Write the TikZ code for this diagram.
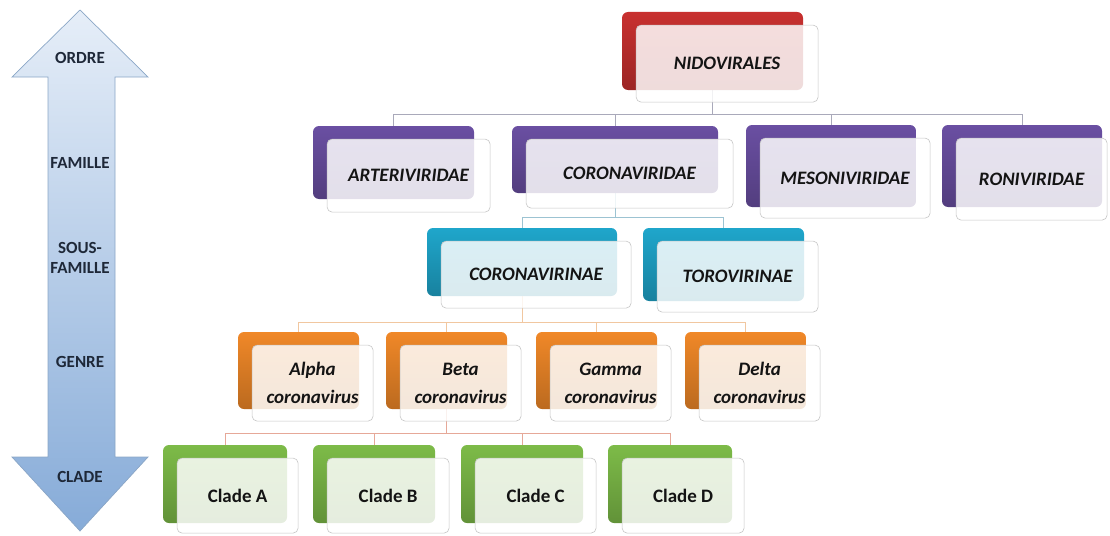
\documentclass[tikz,border=0pt]{standalone}
\usepackage{fontspec}
\setmainfont{Carlito}
\usetikzlibrary{calc}
\pgfdeclarelayer{bg}
\pgfsetlayers{bg,main}
\definecolor{cRed}{HTML}{C8302F}
\definecolor{cPur}{HTML}{6A4FA2}
\definecolor{cTeal}{HTML}{1FA6CB}
\definecolor{cOra}{HTML}{F08828}
\definecolor{cGre}{HTML}{7DBB48}
\definecolor{arrTop}{HTML}{E6EEF8}
\definecolor{arrBot}{HTML}{86ABD8}
\definecolor{arrLine}{HTML}{8AA6C6}
\definecolor{lblCol}{HTML}{1E2838}
\definecolor{lnGray}{HTML}{A9A9BA}
\definecolor{lnBlue}{HTML}{9CC3D2}
\definecolor{lnOra}{HTML}{F1C7A0}
\definecolor{lnRed}{HTML}{E6A898}
\tikzset{
  backbox/.style={rounded corners=6pt, inner sep=0pt, draw=none},
  frontbox/.style={rounded corners=5pt, inner sep=0pt, fill=white, fill opacity=0.84,
     text opacity=1, draw=gray!45, line width=0.6pt, align=center,
     font=\fontsize{19}{28}\selectfont\bfseries\itshape, text=black!92},
  lvl/.style={font=\fontsize{17}{20}\selectfont\bfseries, text=lblCol, align=center},
  conn/.style={line width=0.8pt}
}
% #1 name, #2 colour, #3 cx, #4 cy, #5 w, #6 h, #7 front w, #8 front h, #9 text
\newcommand\taxbox[9]{%
  \node[backbox, top color=#2, bottom color=#2!78!black,
        minimum width=#5pt, minimum height=#6pt] (#1b) at (#3,#4) {};
  \node[frontbox, anchor=north west, minimum width=#7pt, minimum height=#8pt]
        (#1) at ($(#1b.north west)+(14,13)$) {#9};
}
\begin{document}
\begin{tikzpicture}[x=1pt,y=-1pt]
\useasboundingbox (0,0) rectangle (1110,535);

% left double arrow
\path[draw=arrLine, line width=0.7pt, top color=arrTop, bottom color=arrBot]
  (80,10) -- (148,77) -- (115,77) -- (115,457) -- (148,457) -- (80,531)
  -- (12,457) -- (48,457) -- (48,77) -- (12,77) -- cycle;
\node[lvl] (lOrdre) at (80,58) {ORDRE};
\node[lvl] (lFam) at (80,163) {FAMILLE};
\node[lvl] (lSous) at (80,258) {SOUS-\\FAMILLE};
\node[lvl] (lGenre) at (80,362) {GENRE};
\node[lvl] (lClade) at (80,477) {CLADE};

% order
\taxbox{nido}{cRed}{712.5}{51}{181}{78}{182}{77}{NIDOVIRALES}
% families
\taxbox{art}{cPur}{393.5}{162.5}{161}{73}{163}{73}{ARTERIVIRIDAE}
\taxbox{corv}{cPur}{615}{159.5}{206}{67}{207}{69}{CORONAVIRIDAE}
\taxbox{meso}{cPur}{831}{166}{170}{82}{170}{80}{MESONIVIRIDAE}
\taxbox{roni}{cPur}{1022}{166}{160}{82}{151}{82}{RONIVIRIDAE}
% sub-families
\taxbox{cvn}{cTeal}{522}{262}{190}{68}{190}{67}{CORONAVIRINAE}
\taxbox{tvn}{cTeal}{723.5}{264.5}{161}{73}{161}{71}{TOROVIRINAE}
% genera
\taxbox{alpha}{cOra}{298.5}{370.5}{121}{77}{121}{76}{Alpha\\coronavirus}
\taxbox{beta}{cOra}{446.5}{370.5}{121}{77}{121}{76}{Beta\\coronavirus}
\taxbox{gamma}{cOra}{596.5}{370.5}{121}{77}{121}{76}{Gamma\\coronavirus}
\taxbox{delta}{cOra}{745.5}{370.5}{121}{77}{121}{76}{Delta\\coronavirus}
% clades
\taxbox{cA}{cGre}{225}{484}{124}{78}{121}{75}{\upshape Clade A}
\taxbox{cB}{cGre}{374}{484}{122}{78}{122}{75}{\upshape Clade B}
\taxbox{cC}{cGre}{522}{484}{122}{78}{121}{75}{\upshape Clade C}
\taxbox{cD}{cGre}{670}{484}{124}{78}{122}{75}{\upshape Clade D}

\coordinate (bus1) at (0,114);
\coordinate (bus2) at (0,217);
\coordinate (bus3) at (0,322);
\coordinate (bus4) at (0,433);

\begin{pgfonlayer}{bg}
\foreach \c in {art,corv,meso,roni}
  \draw[conn, lnGray] (nidob.south) -- (nidob.south |- bus1) -| (\c b.north);
\foreach \c in {cvn,tvn}
  \draw[conn, lnBlue] (corvb.south) -- (corvb.south |- bus2) -| (\c b.north);
\foreach \c in {alpha,beta,gamma,delta}
  \draw[conn, lnOra] (cvnb.south) -- (cvnb.south |- bus3) -| (\c b.north);
\foreach \c in {cA,cB,cC,cD}
  \draw[conn, lnRed] (betab.south) -- (betab.south |- bus4) -| (\c b.north);
\end{pgfonlayer}
\end{tikzpicture}
\end{document}
